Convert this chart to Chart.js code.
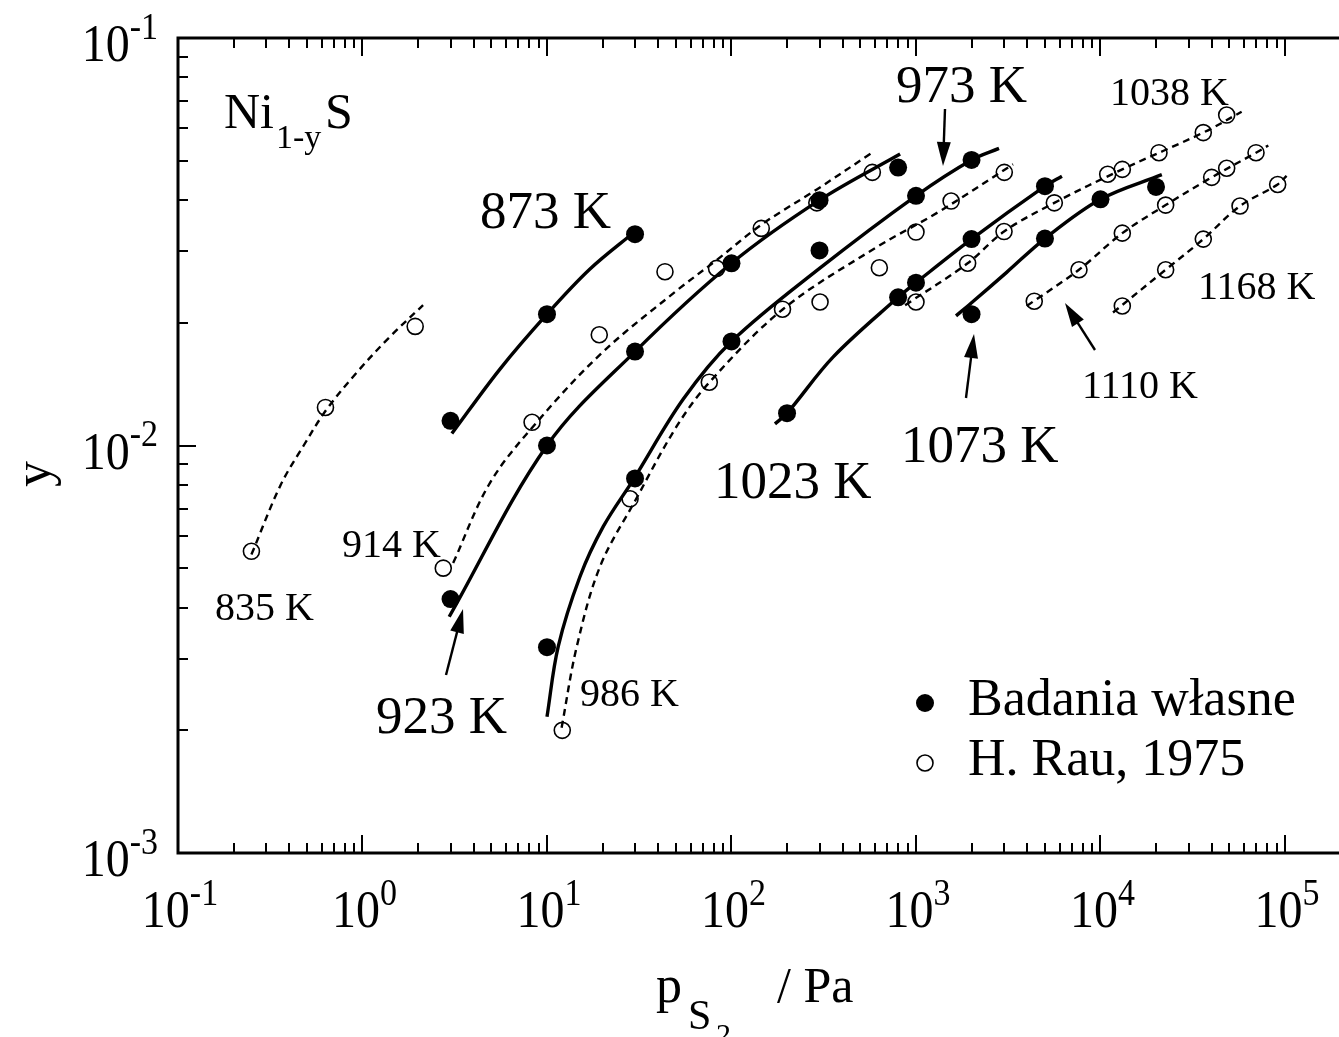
<!DOCTYPE html>
<html>
<head>
<meta charset="utf-8">
<script src="https://cdn.jsdelivr.net/npm/chart.js@4.4.0/dist/chart.umd.min.js"></script>
<style>
  html, body { margin: 0; padding: 0; background: #fff; }
  canvas { display: block; }
</style>
</head>
<body>
<canvas id="chart" width="1339" height="1037"></canvas>
<script>
// tick labels (powers of ten)
const xTickExps = [-1, 0, 1, 2, 3, 4, 5];
const yTickExps = [-3, -2, -1];

// Badania własne – measured points
const own873P = [3, 10, 30];
const own873Y = [0.0115, 0.021, 0.033];
const own923P = [3, 10, 30, 100, 300, 800];
const own923Y = [0.0042, 0.0100, 0.0170, 0.0280, 0.0400, 0.0481];
const own973P = [10, 30, 100, 300, 1000, 2000];
const own973Y = [0.0032, 0.0083, 0.0180, 0.0301, 0.0410, 0.0502];
const own1023P = [200, 800, 1000, 2000, 5000];
const own1023Y = [0.0120, 0.0231, 0.0251, 0.0321, 0.0433];
const own1073P = [2000, 5000, 10000, 20000];
const own1073Y = [0.0210, 0.0322, 0.0402, 0.0431];

// H. Rau, 1975
const rau835P = [0.25, 0.63, 1.93];
const rau835Y = [0.0055, 0.0124, 0.0196];
const rau914P = [2.74, 8.3, 19.2, 43.6, 83, 145, 290, 580];
const rau914Y = [0.0050, 0.0114, 0.0187, 0.0267, 0.0272, 0.0341, 0.0394, 0.0468];
const rau986P = [12.1, 28.2, 75.8, 189, 302, 633, 1000, 1550, 3010];
const rau986Y = [0.0020, 0.0074, 0.0143, 0.0216, 0.0225, 0.0273, 0.0334, 0.0398, 0.0468];
const rau1038P = [1000, 1905, 3000, 5620, 10940, 13130, 20750, 36070, 48300];
const rau1038Y = [0.0225, 0.0280, 0.0335, 0.0394, 0.0463, 0.0476, 0.0523, 0.0586, 0.0647];
const rau1110P = [4375, 7645, 13130, 22550, 40050, 48300, 69650];
const rau1110Y = [0.0226, 0.0270, 0.0332, 0.0389, 0.0455, 0.0479, 0.0523];
const rau1168P = [13130, 22550, 36070, 57050, 91250];
const rau1168Y = [0.0220, 0.0270, 0.0321, 0.0387, 0.0437];

// fitted curves
const fit873P = [3.05, 5.56, 10, 17.1, 30];
const fit873Y = [0.0107, 0.0154, 0.0210, 0.0271, 0.0335];
const fit923P = [2.95, 10, 30, 100, 300, 820];
const fit923Y = [0.0038, 0.0100, 0.0170, 0.0280, 0.0400, 0.0519];
const fit973P = [10, 11.5, 15.1, 20.2, 29.4, 54.8, 100, 300, 1000, 2000, 2818];
const fit973Y = [0.00216, 0.00321, 0.00477, 0.00633, 0.00825, 0.0130, 0.0180, 0.0272, 0.0410, 0.0502, 0.0536];
const fit1023P = [172, 200, 356, 800, 1000, 2000, 5000, 6180];
const fit1023Y = [0.0113, 0.0120, 0.0165, 0.0231, 0.0251, 0.0321, 0.0433, 0.0458];
const fit1073P = [1648, 2000, 3100, 5000, 10000, 21500];
const fit1073Y = [0.0208, 0.0224, 0.0266, 0.0322, 0.0402, 0.0462];
const fit835P = [0.25, 0.36, 0.48, 0.634, 0.93, 1.41, 2.13];
const fit835Y = [0.0054, 0.0080, 0.0100, 0.0122, 0.0151, 0.0185, 0.0221];
const fit914P = [3.1, 4.91, 8.8, 19.9, 50.5, 83, 145, 290, 585];
const fit914Y = [0.00515, 0.0081, 0.0114, 0.0169, 0.0240, 0.0285, 0.0348, 0.0425, 0.0525];
const fit986P = [12.0, 14.5, 19.4, 30.3, 50.5, 76, 190, 600, 1349, 3356];
const fit986Y = [0.00203, 0.00321, 0.00505, 0.00737, 0.01115, 0.0143, 0.0216, 0.0305, 0.0376, 0.0490];
const fit1038P = [873, 1905, 3000, 5620, 13130, 36070, 58200];
const fit1038Y = [0.0221, 0.0280, 0.0335, 0.0394, 0.0476, 0.0586, 0.0659];
const fit1110P = [3980, 7645, 13130, 22550, 40050, 69650, 81200];
const fit1110Y = [0.0220, 0.0270, 0.0332, 0.0389, 0.0455, 0.0523, 0.0545];
const fit1168P = [11690, 22550, 36070, 57050, 91250, 102000];
const fit1168Y = [0.0212, 0.0270, 0.0321, 0.0387, 0.0437, 0.0459];

const SERIF = '"Liberation Serif", "Times New Roman", serif';

const toXY = (p, y) => p.map((v, i) => ({ x: v, y: y[i] }));

const pointSet = (label, p, y, filled) => ({
    label,
    data: toXY(p, y),
    showLine: false,
    pointStyle: 'circle',
    pointRadius: filled ? 9 : 8,
    pointBackgroundColor: filled ? '#000' : 'rgba(0,0,0,0)',
    pointBorderColor: '#000',
    pointBorderWidth: filled ? 0 : 1.6,
    order: 0
});

const fitSet = (label, p, y, dashed) => ({
    label,
    data: toXY(p, y),
    showLine: true,
    pointRadius: 0,
    borderColor: '#000',
    borderWidth: dashed ? 2.4 : 3.4,
    borderDash: dashed ? [7, 5] : [],
    tension: 0.35,
    fill: false,
    order: 1
});

const datasets = [
    fitSet('fit 873 K', fit873P, fit873Y, false),
    fitSet('fit 923 K', fit923P, fit923Y, false),
    fitSet('fit 973 K', fit973P, fit973Y, false),
    fitSet('fit 1023 K', fit1023P, fit1023Y, false),
    fitSet('fit 1073 K', fit1073P, fit1073Y, false),
    fitSet('fit 835 K', fit835P, fit835Y, true),
    fitSet('fit 914 K', fit914P, fit914Y, true),
    fitSet('fit 986 K', fit986P, fit986Y, true),
    fitSet('fit 1038 K', fit1038P, fit1038Y, true),
    fitSet('fit 1110 K', fit1110P, fit1110Y, true),
    fitSet('fit 1168 K', fit1168P, fit1168Y, true),
    pointSet('Rau 835 K', rau835P, rau835Y, false),
    pointSet('Rau 914 K', rau914P, rau914Y, false),
    pointSet('Rau 986 K', rau986P, rau986Y, false),
    pointSet('Rau 1038 K', rau1038P, rau1038Y, false),
    pointSet('Rau 1110 K', rau1110P, rau1110Y, false),
    pointSet('Rau 1168 K', rau1168P, rau1168Y, false),
    pointSet('873 K', own873P, own873Y, true),
    pointSet('923 K', own923P, own923Y, true),
    pointSet('973 K', own973P, own973Y, true),
    pointSet('1023 K', own1023P, own1023Y, true),
    pointSet('1073 K', own1073P, own1073Y, true)
];

// "10" with a raised exponent, slightly stretched vertically like the original
function drawPow(ctx, exp, x, baseY, align) {
    const big = '48px ' + SERIF, small = '34px ' + SERIF;
    ctx.font = big;
    const wb = ctx.measureText('10').width;
    ctx.font = small;
    const we = ctx.measureText(String(exp)).width;
    const x0 = align === 'center' ? x - (wb + we) / 2 : x - (wb + we);
    ctx.save();
    ctx.translate(x0, baseY);
    ctx.scale(1, 1.12);
    ctx.textAlign = 'left';
    ctx.textBaseline = 'alphabetic';
    ctx.font = big;
    ctx.fillText('10', 0, 0);
    ctx.font = small;
    ctx.fillText(String(exp), wb, -20);
    ctx.restore();
}

function drawArrow(ctx, x1, y1, x2, y2) {
    const ang = Math.atan2(y2 - y1, x2 - x1);
    const hl = 24, hw = 7;
    ctx.lineWidth = 2.4;
    ctx.beginPath();
    ctx.moveTo(x1, y1);
    ctx.lineTo(x2 - Math.cos(ang) * hl * 0.8, y2 - Math.sin(ang) * hl * 0.8);
    ctx.stroke();
    ctx.beginPath();
    ctx.moveTo(x2, y2);
    ctx.lineTo(x2 - Math.cos(ang) * hl - Math.sin(ang) * hw, y2 - Math.sin(ang) * hl + Math.cos(ang) * hw);
    ctx.lineTo(x2 - Math.cos(ang) * hl + Math.sin(ang) * hw, y2 - Math.sin(ang) * hl - Math.cos(ang) * hw);
    ctx.closePath();
    ctx.fill();
}

const framePlugin = {
    id: 'frame',
    afterDraw(chart) {
        const { ctx, chartArea: a } = chart;
        const xs = chart.scales.x, ys = chart.scales.y;
        ctx.save();
        ctx.strokeStyle = '#000';
        ctx.fillStyle = '#000';

        // box (right side runs off the picture)
        ctx.lineWidth = 3;
        ctx.beginPath();
        ctx.moveTo(a.right + 2, a.top);
        ctx.lineTo(a.left, a.top);
        ctx.lineTo(a.left, a.bottom);
        ctx.lineTo(a.right + 2, a.bottom);
        ctx.stroke();

        // ticks, inward (bottom, top, left)
        ctx.lineWidth = 2;
        ctx.beginPath();
        for (let d = -1; d <= 5; d++) {
            for (let m = 1; m <= 9; m++) {
                const v = m * Math.pow(10, d);
                if (v < xs.min || v > xs.max) continue;
                const px = Math.round(xs.getPixelForValue(v));
                const len = m === 1 ? 18 : 10;
                ctx.moveTo(px, a.bottom); ctx.lineTo(px, a.bottom - len);
                ctx.moveTo(px, a.top); ctx.lineTo(px, a.top + len);
            }
        }
        for (let d = -3; d <= -1; d++) {
            for (let m = 1; m <= 9; m++) {
                const v = m * Math.pow(10, d);
                if (v < ys.min * 0.999 || v > ys.max * 1.001) continue;
                const py = Math.round(ys.getPixelForValue(v));
                const len = m === 1 ? 18 : 10;
                ctx.moveTo(a.left, py); ctx.lineTo(a.left + len, py);
            }
        }
        ctx.stroke();

        // tick labels
        xTickExps.forEach(e => drawPow(ctx, e, xs.getPixelForValue(Math.pow(10, e)) + 2, 927, 'center'));
        yTickExps.forEach(e => drawPow(ctx, e, 158, ys.getPixelForValue(Math.pow(10, e)) + 23, 'right'));

        // axis titles
        ctx.textAlign = 'left';
        ctx.textBaseline = 'alphabetic';
        ctx.font = '52px ' + SERIF;
        ctx.fillText('p', 656, 1002);
        ctx.font = '42px ' + SERIF;
        ctx.fillText('S', 688, 1029);
        ctx.font = '30px ' + SERIF;
        ctx.fillText('2', 716, 1044);
        ctx.font = '50px ' + SERIF;
        ctx.fillText('/ Pa', 777, 1002);

        ctx.save();
        ctx.translate(50, 474);
        ctx.rotate(-Math.PI / 2);
        ctx.font = '52px ' + SERIF;
        ctx.textAlign = 'center';
        ctx.fillText('y', 0, 0);
        ctx.restore();

        // compound name
        ctx.font = '50px ' + SERIF;
        ctx.fillText('Ni', 224, 128);
        ctx.font = '34px ' + SERIF;
        ctx.fillText('1-y', 276, 148);
        ctx.font = '50px ' + SERIF;
        ctx.fillText('S', 325, 128);

        // temperature labels
        const big = '53px ' + SERIF, small = '40px ' + SERIF;
        [
            ['873 K', 480, 228, big], ['973 K', 896, 102, big], ['1023 K', 714, 498, big],
            ['1073 K', 901, 462, big], ['923 K', 376, 733, big],
            ['835 K', 215, 620, small], ['914 K', 342, 557, small], ['986 K', 580, 706, small],
            ['1038 K', 1110, 105, small], ['1110 K', 1082, 398, small], ['1168 K', 1198, 299, small]
        ].forEach(([t, x, y, f]) => { ctx.font = f; ctx.fillText(t, x, y); });

        // arrows
        drawArrow(ctx, 945, 109, 943, 166);
        drawArrow(ctx, 446, 675, 463, 609);
        drawArrow(ctx, 966, 398, 974, 334);
        drawArrow(ctx, 1095, 350, 1065, 303);

        // legend
        ctx.beginPath();
        ctx.arc(925, 703, 9, 0, Math.PI * 2);
        ctx.fill();
        ctx.lineWidth = 1.6;
        ctx.beginPath();
        ctx.arc(925, 763, 8, 0, Math.PI * 2);
        ctx.stroke();
        ctx.font = '52px ' + SERIF;
        ctx.fillText('Badania własne', 968, 715);
        ctx.fillText('H. Rau, 1975', 968, 775);

        ctx.restore();
    }
};

new Chart(document.getElementById('chart').getContext('2d'), {
    type: 'scatter',
    data: { datasets },
    options: {
        responsive: false,
        animation: false,
        devicePixelRatio: 1,
        layout: { autoPadding: false, padding: { left: 178, top: 38, right: 0, bottom: 184 } },
        scales: {
            x: { type: 'logarithmic', min: 0.1, max: 196200, display: false },
            y: { type: 'logarithmic', min: 0.001, max: 0.1, display: false }
        },
        plugins: {
            legend: { display: false },
            tooltip: { enabled: false }
        }
    },
    plugins: [framePlugin]
});
</script>
</body>
</html>
